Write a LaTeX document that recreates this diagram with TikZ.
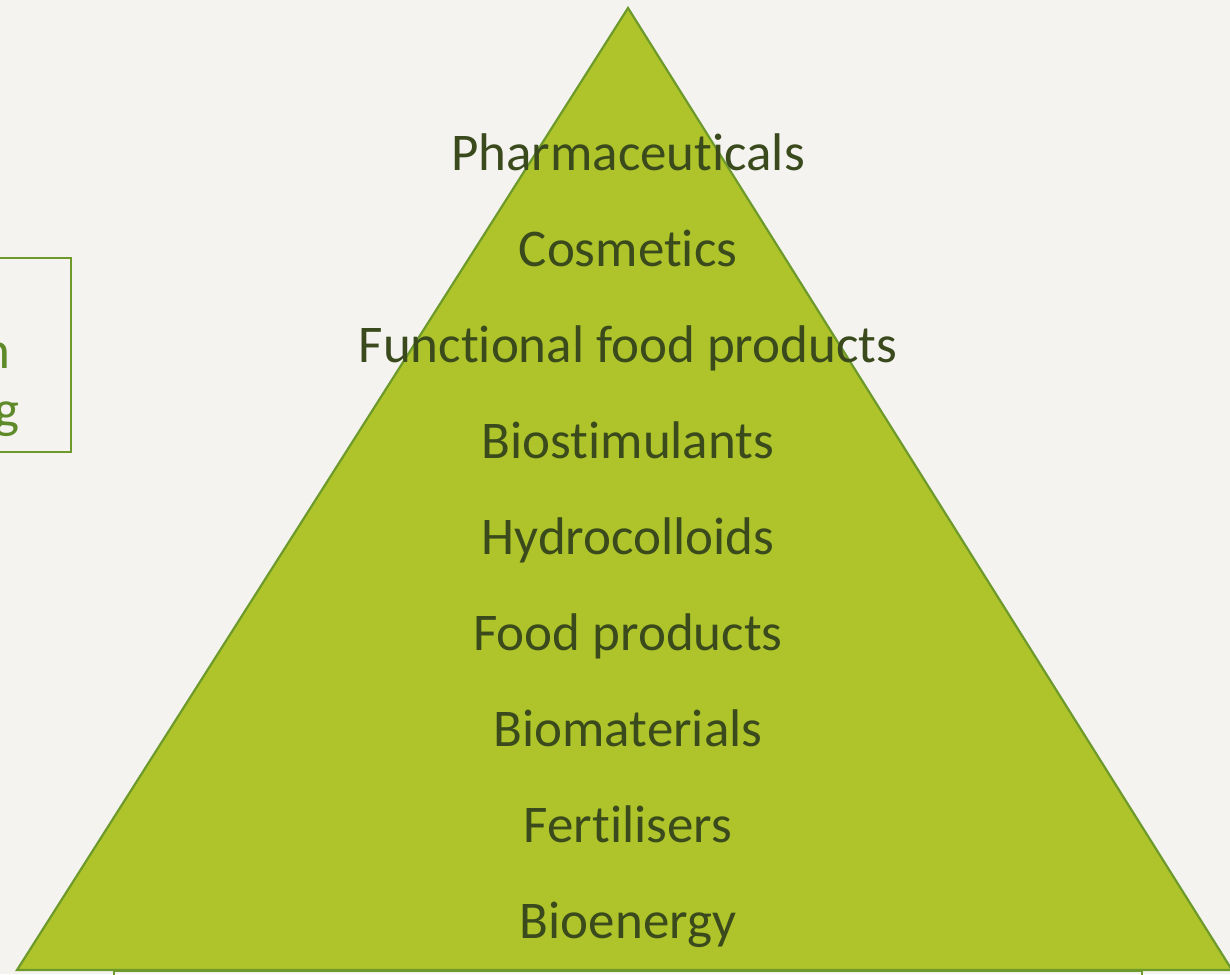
\documentclass[tikz,border=0pt]{standalone}
\usepackage{fontspec}
\setmainfont{Carlito}[Ligatures=NoCommon]
\definecolor{paper}{HTML}{F4F3EF}
\definecolor{leaf}{HTML}{AEC42A}
\definecolor{rim}{HTML}{6E9A2C}
\definecolor{ink}{HTML}{3A4A1C}
\definecolor{boxink}{HTML}{5E8A2A}
\tikzset{
  tier/.style={anchor=base, inner sep=0pt, text=ink, font=\fontsize{53}{60}\selectfont},
  sidetext/.style={anchor=base east, inner sep=0pt, text=boxink, font=\fontsize{53}{60}\selectfont}
}

\begin{document}
\begin{tikzpicture}[x=1pt,y=-1pt]
\fill[paper] (0,0) rectangle (1230,974);
\useasboundingbox (0,0) rectangle (1230,974);
\clip (0,0) rectangle (1230,974);

% boxes partly outside the page
\draw[rim, line width=1.5pt] (-10,258) rectangle (71,452);
\node[sidetext] (sidea) at (11,368) {n};
\node[sidetext] (sideb) at (20,427) {g};
\draw[rim, line width=1.5pt] (114,971) rectangle (1142,1010);

% the pyramid
\coordinate (top) at (628,8);
\coordinate (left) at (17,970);
\coordinate (right) at (1232,970);
\draw[rim, fill=leaf, line width=2.2pt, line join=miter] (top) -- (left) -- (right) -- cycle;

\node[tier] (pharma) at (628,170) {Pharmaceuticals};
\node[tier] (cosm) at (628,266) {Cosmetics};
\node[tier] (func) at (628,362) {Functional food products};
\node[tier] (biostim) at (628,458) {Biostimulants};
\node[tier] (hydro) at (628,554) {Hydrocolloids};
\node[tier] (food) at (628,650) {Food products};
\node[tier] (biomat) at (628,746) {Biomaterials};
\node[tier] (fert) at (628,842) {Fertilisers};
\node[tier] (bioen) at (628,938) {Bioenergy};
\end{tikzpicture}
\end{document}
